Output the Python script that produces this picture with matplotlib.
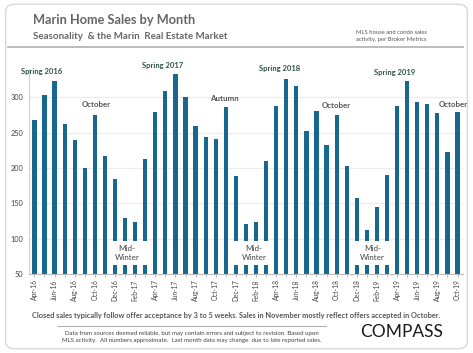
import matplotlib.pyplot as plt
from matplotlib.patches import FancyBboxPatch, Rectangle

plt.rcParams['font.family'] = ['Lato', 'DejaVu Sans']

# monthly closed sales, Apr-16 .. Oct-19
months = ['Apr-16', 'May-16', 'Jun-16', 'Jul-16', 'Aug-16', 'Sep-16', 'Oct-16', 'Nov-16', 'Dec-16',
          'Jan-17', 'Feb-17', 'Mar-17', 'Apr-17', 'May-17', 'Jun-17', 'Jul-17', 'Aug-17', 'Sep-17',
          'Oct-17', 'Nov-17', 'Dec-17',
          'Jan-18', 'Feb-18', 'Mar-18', 'Apr-18', 'May-18', 'Jun-18', 'Jul-18', 'Aug-18', 'Sep-18',
          'Oct-18', 'Nov-18', 'Dec-18',
          'Jan-19', 'Feb-19', 'Mar-19', 'Apr-19', 'May-19', 'Jun-19', 'Jul-19', 'Aug-19', 'Sep-19',
          'Oct-19']
sales = [268, 303, 323, 262, 240, 200, 275, 217, 185,
         129, 124, 213, 279, 309, 333, 301, 260, 244, 241, 286, 189,
         121, 124, 210, 288, 326, 316, 253, 281, 233, 275, 203, 157,
         112, 145, 190, 288, 323, 293, 291, 278, 223, 280]

spring_labels = ['Spring 2016', 'Spring 2017', 'Spring 2018', 'Spring 2019']
spring_pos = [(0.75, 337), (12.7, 345), (24.3, 340.5), (35.8, 336)]
other_labels = ['October', 'Autumn', 'October', 'October']
other_pos = [(6.1, 290.5), (18.9, 298.5), (30.0, 288), (41.6, 290.5)]
winter_spans = [(7.2, 11.2), (19.8, 23.8), (31.7, 35.4)]

bar_color = '#17678f'
gray = '#666666'

fig = plt.figure(figsize=(4.73, 3.53), dpi=100)
fig.patch.set_facecolor('white')

# rounded frame
frame = FancyBboxPatch((0.012, 0.012), 0.976, 0.976, boxstyle='round,pad=0,rounding_size=0.02',
                       transform=fig.transFigure, facecolor='white', edgecolor='#d8d8d8', lw=1,
                       zorder=-5)
fig.patches.append(frame)

ax = fig.add_axes([0.061, 0.224, 0.918, 0.58])
ax.set_facecolor('none')
x = range(len(sales))
ax.bar(x, sales, width=0.42, color=bar_color, zorder=2)
ax.set_ylim(50, 340)
ax.set_xlim(-0.55, len(sales) - 0.45)
ax.set_yticks([50, 100, 150, 200, 250, 300])
ax.tick_params(axis='y', length=0, labelsize=5.3, labelcolor='#444444', pad=4)
ax.grid(axis='y', color='#ececec', lw=0.8, zorder=0)
ax.set_xticks(list(x)[::2])
ax.set_xticklabels(months[::2], rotation=90, fontsize=4.8, color='#444444')
ax.set_xticks(list(x), minor=True)
ax.tick_params(axis='x', which='both', length=2, color='#bbbbbb', pad=2)
for s in ['top', 'right']:
    ax.spines[s].set_visible(False)
ax.spines['left'].set_color('#d0d0d0')
ax.spines['bottom'].set_color('#bbbbbb')

for lab, (px, py) in zip(spring_labels, spring_pos):
    ax.text(px, py, lab, ha='center', va='center', fontsize=5.5, fontweight='bold',
            color='#2f5443', clip_on=False)
for lab, (px, py) in zip(other_labels, other_pos):
    ax.text(px, py, lab, ha='center', va='center', fontsize=5.7, fontweight='bold',
            color='#555555', clip_on=False)
for a, b in winter_spans:
    ax.add_patch(Rectangle((a, 62), b - a, 35, facecolor='white', edgecolor='none', zorder=3))
    ax.text((a + b) / 2, 79.5, 'Mid-\nWinter', ha='center', va='center', fontsize=5.8,
            color='#444444', zorder=4, linespacing=1.3)

# header
fig.text(0.07, 0.943, 'Marin Home Sales by Month', fontsize=9.2, fontweight='bold', color=gray,
         va='center')
fig.text(0.07, 0.898, 'Seasonality  & the Marin  Real Estate Market', fontsize=7,
         fontweight='bold', color=gray, va='center')
fig.text(0.752, 0.898, 'MLS house and condo sales\nactivity, per Broker Metrics', fontsize=4.2,
         color='#555555', va='center', linespacing=1.4)
fig.add_artist(plt.Line2D([0.017, 0.979], [0.866, 0.866], color='#b0b0b0', lw=1.2))

# footer
fig.text(0.5, 0.105, 'Closed sales typically follow offer acceptance by 3 to 5 weeks. Sales in November '
         'mostly reflect offers accepted in October.', ha='center', va='center', fontsize=5.3,
         fontweight='bold', color='#555555')
fig.add_artist(plt.Line2D([0.122, 0.69], [0.077, 0.077], color='#b0b0b0', lw=0.8))
fig.text(0.405, 0.046, 'Data from sources deemed reliable, but may contain errors and subject to revision. '
         'Based upon\nMLS activity.  All numbers approximate.  Last month data may change  due to '
         'late reported sales.', ha='center', va='center', fontsize=4.4, color='#444444',
         linespacing=1.5)

# logo
fig.text(0.849, 0.06, 'COMPASS', ha='center', va='center', fontsize=12.5, fontweight='normal',
         color='#1a1a1a')

fig.savefig('out.png', dpi=100, facecolor='white')
